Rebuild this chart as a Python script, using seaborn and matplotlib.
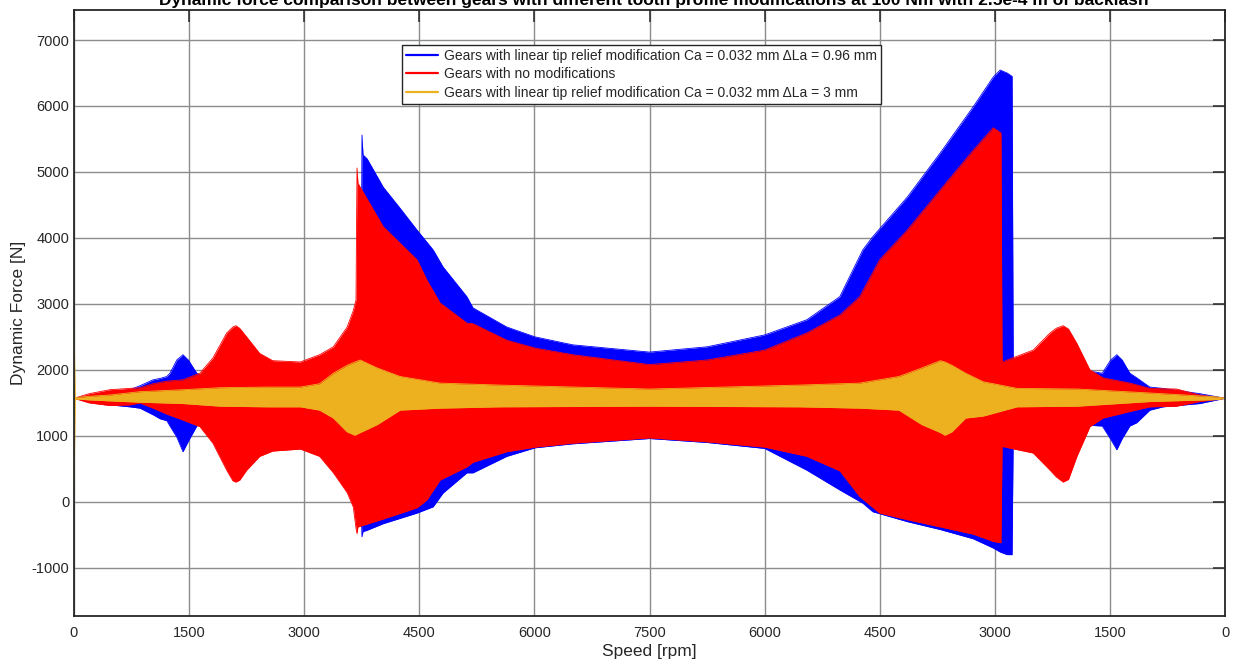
import numpy as np
import pandas as pd
import seaborn as sns
import matplotlib.pyplot as plt
from matplotlib.lines import Line2D

# Envelope of the dynamic force (upper / lower peaks) along the run-up / run-down sweep
x_blue = [0, 200, 470, 730, 860, 1030, 1120, 1210, 1250, 1340, 1420, 1490, 1600, 1680, 1900,
          2110, 2520, 2950, 3380, 3640, 3740, 3753, 3766, 3820, 4030, 4250, 4470, 4680,
          4810, 5120, 5200, 5640, 6010, 6500, 7500, 8250, 9000, 9550, 9980, 10280, 10410,
          10860, 11290, 11720, 11980, 12070, 12160, 12225, 12240, 12500, 12890, 13240,
          13400, 13510, 13590, 13660, 13760, 13850, 14020, 14190, 14670, 15000]
up_blue = [1570, 1610, 1660, 1700, 1760, 1850, 1870, 1900, 1950, 2150, 2230, 2150, 1950, 1890, 1900,
           2000, 2000, 2050, 2250, 2700, 2900, 5560, 5260, 5200, 4770, 4450, 4120, 3820,
           3560, 3110, 2940, 2650, 2500, 2380, 2270, 2350, 2530, 2760, 3110, 3820, 4020,
           4620, 5290, 5990, 6440, 6545, 6500, 6450, 2100, 2050, 2000, 1980,
           1950, 2150, 2230, 2150, 1950, 1880, 1740, 1720, 1640, 1570]
lo_blue = [1570, 1530, 1470, 1440, 1420, 1320, 1260, 1230, 1150, 980, 760, 920, 1150, 1210, 1200,
           1150, 1000, 950, 600, 100, -100, -530, -450, -430, -330, -250, -170, -75,
           135, 440, 440, 690, 820, 880, 960, 900, 810, 480, 180, -20, -150,
           -300, -420, -560, -700, -760, -800, -800, 1020, 1000, 1050, 1160,
           1150, 950, 790, 960, 1150, 1200, 1390, 1440, 1490, 1570]

x_red = [0, 200, 470, 730, 860, 1030, 1210, 1420, 1640, 1810, 1990, 2070, 2110, 2160, 2250,
         2420, 2590, 2950, 3200, 3380, 3560, 3640, 3675, 3688, 3700, 4030, 4470, 4600, 4770,
         5120, 5200, 5640, 6010, 6500, 7500, 8250, 9000, 9550, 9980, 10240, 10500, 10860,
         11290, 11720, 11980, 12080, 12095, 12500, 12720, 12800, 12890, 12960, 13070, 13240,
         13410, 13760, 14020, 14370, 14670, 15000]
up_red = [1570, 1640, 1700, 1720, 1730, 1790, 1830, 1850, 1950, 2180, 2560, 2650, 2670, 2630, 2500,
          2250, 2140, 2120, 2230, 2350, 2650, 2900, 3060, 5060, 4830, 4170, 3670, 3360, 3015,
          2710, 2700, 2450, 2330, 2230, 2080, 2150, 2300, 2560, 2830, 3110, 3670, 4120,
          4730, 5330, 5670, 5590, 2120, 2300, 2560, 2630, 2670, 2620, 2400, 2000,
          1880, 1800, 1720, 1710, 1620, 1570]
lo_red = [1570, 1500, 1460, 1470, 1500, 1420, 1330, 1240, 1140, 890, 480, 320, 300, 330, 480,
          690, 770, 800, 690, 440, 140, -80, -400, -480, -380, -260, -90, 30, 330,
          530, 600, 760, 830, 890, 970, 910, 830, 690, 470, 80, -170, -270,
          -380, -490, -600, -620, 840, 740, 480, 380, 300, 340, 690, 1140,
          1270, 1370, 1440, 1450, 1520, 1570]

x_yel = [0, 15, 200, 470, 860, 1420, 1900, 2520, 2950, 3200, 3380, 3560, 3660, 3730, 3950,
         4250, 4770, 5550, 7500, 9450, 10240, 10750, 11050, 11290, 11350, 11440, 11620,
         11850, 12290, 13080, 14020, 14900, 15000]
up_yel = [2830, 1580, 1600, 1620, 1670, 1700, 1730, 1740, 1740, 1790, 1950, 2070, 2120, 2150, 2030,
          1900, 1800, 1770, 1710, 1770, 1800, 1900, 2030, 2140, 2120, 2070, 1950,
          1820, 1720, 1710, 1650, 1590, 1570]
lo_yel = [0, 1560, 1545, 1530, 1510, 1490, 1450, 1440, 1440, 1390, 1270, 1060, 1010, 1050, 1170,
          1390, 1420, 1440, 1450, 1440, 1420, 1390, 1170, 1050, 1010, 1060, 1270,
          1300, 1440, 1450, 1520, 1550, 1570]

labels = ['Gears with linear tip relief modification Ca = 0.032 mm \u0394La = 0.96 mm',
          'Gears with no modifications',
          'Gears with linear tip relief modification Ca = 0.032 mm \u0394La = 3 mm']
colors = ['#0000ff', '#ff0000', '#edb120']

xticks = [0, 1500, 3000, 4500, 6000, 7500, 9000, 10500, 12000, 13500, 15000]
xticklabels = ['0', '1500', '3000', '4500', '6000', '7500', '6000', '4500', '3000', '1500', '0']
yticks = [-1000, 0, 1000, 2000, 3000, 4000, 5000, 6000, 7000]

title = ('Dynamic force comparison between gears with different tooth profile '
         'modifications at 100 Nm with 2.5e-4 m of backlash')

sns.set_theme(style='white')
plt.rcParams['font.family'] = ['Liberation Sans', 'DejaVu Sans']
plt.rcParams['axes.unicode_minus'] = False

fig = plt.figure(figsize=(12.36, 6.64), dpi=100)
ax = fig.add_axes([74 / 1236, 48 / 664, 1151 / 1236, 606 / 664])

series = [(x_blue, up_blue, lo_blue), (x_red, up_red, lo_red), (x_yel, up_yel, lo_yel)]
for (xs, up, lo), c, lab in zip(series, colors, labels):
    df = pd.DataFrame({'x': xs + xs, 'f': up + lo,
                       'edge': ['up'] * len(xs) + ['lo'] * len(xs)})
    ax.fill_between(xs, lo, up, color=c, lw=0, zorder=2)
    sns.lineplot(data=df, x='x', y='f', units='edge', estimator=None, sort=False,
                 color=c, lw=0.6, ax=ax, legend=False, zorder=2)

ax.set_xlim(0, 15000)
ax.set_ylim(-1730, 7455)
ax.set_xticks(xticks)
ax.set_xticklabels(xticklabels)
ax.set_yticks(yticks)

ax.grid(True, color='#8c8c8c', lw=1.0)
ax.set_axisbelow(True)
for s in ax.spines.values():
    s.set_color('#262626')
    s.set_linewidth(1.3)
ax.tick_params(axis='both', direction='in', length=8.5, width=1.1, color='#262626',
               top=True, right=True, labelsize=10.5, labelcolor='#262626')
ax.tick_params(axis='x', pad=7)
ax.tick_params(axis='y', pad=3.5)

ax.set_xlabel('Speed [rpm]', fontsize=12.5, color='#262626')
ax.set_ylabel('Dynamic Force [N]', fontsize=12.5, color='#262626')
ax.xaxis.set_label_coords(0.5, -0.047)
ax.yaxis.set_label_coords(-(74 - 26) / 1151, 0.5)

handles = [Line2D([0], [0], color=c, lw=1.6) for c in colors]
leg = ax.legend(handles, labels, loc='upper left',
                bbox_to_anchor=((402 - 74) / 1151, (616 - 45) / 606),
                frameon=True, fancybox=False, framealpha=1, edgecolor='#262626',
                fontsize=10, handlelength=2.3, borderaxespad=0, labelspacing=0.3,
                borderpad=0.3, handletextpad=0.4)
leg.get_frame().set_linewidth(1.0)

fig.text(654 / 1236, 1 - 5 / 664, title, ha='center', va='baseline',
         fontweight='bold', fontsize=12.5, color='black')

fig.savefig('out.png', dpi=100)
